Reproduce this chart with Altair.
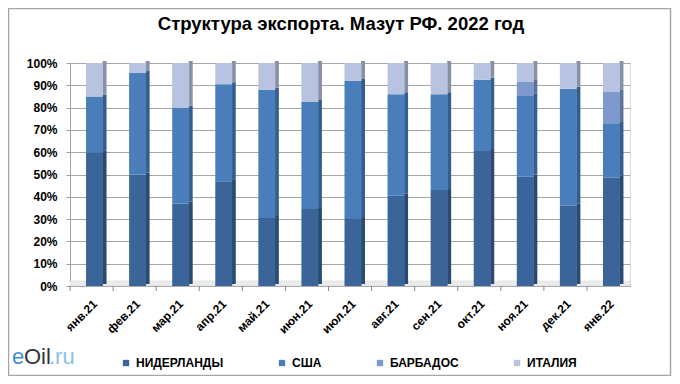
import altair as alt
import pandas as pd

months = ["янв.21", "фев.21", "мар.21", "апр.21", "май.21", "июн.21", "июл.21",
          "авг.21", "сен.21", "окт.21", "ноя.21", "дек.21", "янв.22"]
countries = ["НИДЕРЛАНДЫ", "США", "БАРБАДОС", "ИТАЛИЯ"]
netherlands = [60, 50, 37, 47, 30.5, 34.5, 30, 40.5, 43, 60.5, 49, 36, 48.5]
usa = [25, 45.5, 43, 43.5, 57.5, 48, 62, 45.5, 43, 32, 36.5, 52.5, 24.5]
barbados = [0, 0, 0, 0, 0, 0, 0, 0, 0, 0, 6, 0, 14]
italy = [15, 4.5, 20, 9.5, 12, 17.5, 8, 14, 14, 7.5, 8.5, 11.5, 13]

front_colors = ["#3B6598", "#4A7EBB", "#7E9ACC", "#B7C3E0"]
side_colors = ["#2A4A70", "#365E8C", "#5D7299", "#8890A4"]

series = [netherlands, usa, barbados, italy]
rows = []
for ci, (c, vals) in enumerate(zip(countries, series)):
    for m, v in zip(months, vals):
        rows.append({"month": m, "country": c, "value": v, "idx": ci,
                     "side": side_colors[ci]})
df = pd.DataFrame(rows)
mdf = pd.DataFrame({"month": months})

FONT = "Liberation Sans"

x_enc = alt.X("month:N", sort=months, title=None,
              scale=alt.Scale(paddingInner=0, paddingOuter=0),
              axis=alt.Axis(labelAngle=-45, labelAlign="right", labelBaseline="top",
                            labelFontSize=12, labelFontWeight="bold", labelFont=FONT,
                            labelColor="#000000", labelPadding=12, ticks=False,
                            domainColor="#A0A0A0", grid=False))
y_enc = alt.Y("value:Q", stack="zero", title=None,
              scale=alt.Scale(domain=[0, 100], nice=False),
              axis=alt.Axis(values=list(range(0, 101, 10)), labelExpr="datum.value + '%'",
                            labelFontSize=12, labelFontWeight="bold", labelFont=FONT,
                            labelColor="#000000", tickSize=4, tickColor="#A0A0A0",
                            labelPadding=9, domainColor="#A0A0A0",
                            gridColor="#A6A6A6", gridWidth=1))

base = alt.Chart(df)

floor = alt.Chart(pd.DataFrame({"a": [0]})).mark_rect(fill="#EBEBEB", stroke="#D0D0D0",
                                                      strokeWidth=0.5).encode(
    x=alt.value(0), x2=alt.value(560), y=alt.value(218), y2=alt.value(223))

xticks = alt.Chart(mdf).mark_rule(color="#888888", strokeWidth=1, xOffset=-21.5).encode(
    x=alt.X("month:N", sort=months), y=alt.value(223), y2=alt.value(228))

side = base.mark_bar(size=4, xOffset=13, yOffset=-2).encode(
    x=x_enc, y=y_enc,
    color=alt.Color("side:N", scale=None),
    order=alt.Order("idx:Q"),
)

front = base.mark_bar(size=17, xOffset=3).encode(
    x=x_enc, y=y_enc,
    color=alt.Color("country:N", sort=countries,
                    scale=alt.Scale(domain=countries, range=front_colors),
                    legend=alt.Legend(title=None, orient="none", legendX=50, legendY=294,
                                      direction="horizontal", columns=4, columnPadding=52,
                                      symbolType="square", symbolSize=40,
                                      symbolStrokeWidth=0, labelFontSize=12,
                                      labelFontWeight="bold",
                                      labelFont=FONT, labelColor="#000000", padding=0)),
    order=alt.Order("idx:Q"),
)

one = pd.DataFrame({"a": [0]})
border = alt.Chart(one).mark_rect(fill="transparent", stroke="#A6A6A6", strokeWidth=1.5).encode(
    x=alt.value(-61.5), x2=alt.value(600.5), y=alt.value(-54.5), y2=alt.value(312.5))

title = alt.Chart(one).mark_text(text="Структура экспорта. Мазут РФ. 2022 год", fontSize=18.5,
                                 fontWeight="bold", font=FONT, color="#000000",
                                 align="center", baseline="middle").encode(
    x=alt.value(271), y=alt.value(-39))

logo_e = alt.Chart(one).mark_text(text="e", fontSize=22, font=FONT, color="#3D8FD0",
                                  align="left", baseline="middle").encode(
    x=alt.value(-58), y=alt.value(294))
logo_oil = alt.Chart(one).mark_text(text="Oil", fontSize=22, font=FONT, color="#333333",
                                    align="left", baseline="middle").encode(
    x=alt.value(-46), y=alt.value(294))
logo_ru = alt.Chart(one).mark_text(text=".ru", fontSize=22, font=FONT, color="#8CC0E8",
                                   align="left", baseline="middle").encode(
    x=alt.value(-21), y=alt.value(294))

chart = alt.layer(border, floor, xticks, side, front, title, logo_e, logo_oil, logo_ru).properties(
    width=560, height=223,
    autosize=alt.AutoSizeParams(type="none"),
    padding={"left": 62, "top": 55, "right": 42, "bottom": 90},
).configure_view(stroke=None).configure(background="#FFFFFF")

chart.save("out.html", embed_options={"renderer": "svg", "actions": False})
